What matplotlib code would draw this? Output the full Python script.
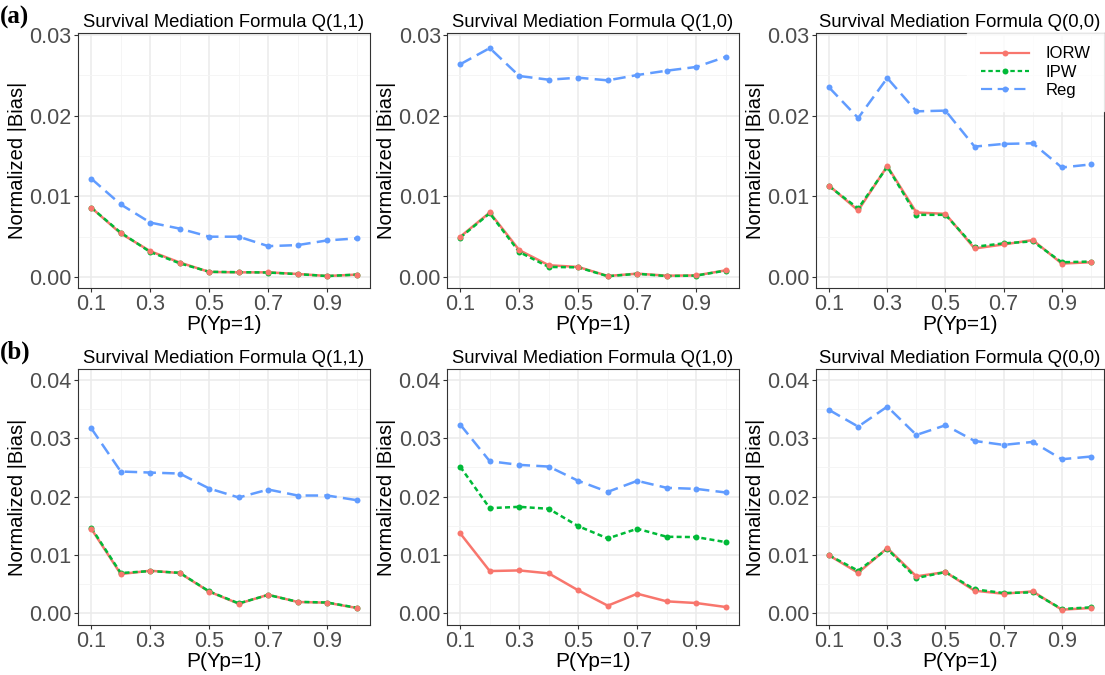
"""Normalized |Bias| of IORW, IPW and Reg estimators across P(Yp=1)."""

import matplotlib

matplotlib.use("Agg")
import matplotlib.pyplot as plt
from matplotlib.lines import Line2D
from matplotlib.ticker import MultipleLocator

plt.rcParams["font.family"] = ["Liberation Sans", "DejaVu Sans"]

p_yp = [0.1, 0.2, 0.3, 0.4, 0.5, 0.6, 0.7, 0.8, 0.9, 1.0]
x_ticks = [0.1, 0.3, 0.5, 0.7, 0.9]
titles = [
    "Survival Mediation Formula Q(1,1)",
    "Survival Mediation Formula Q(1,0)",
    "Survival Mediation Formula Q(0,0)",
]
methods = ["IORW", "IPW", "Reg"]

# row (a)
a_q11_iorw = [0.0086, 0.0054, 0.0032, 0.0018, 0.00063, 0.00058, 0.00058, 0.00038, 0.00013, 0.0003]
a_q11_ipw = [0.0086, 0.0055, 0.0031, 0.0017, 0.00065, 0.0006, 0.00056, 0.00036, 0.00012, 0.0003]
a_q11_reg = [0.0122, 0.0090, 0.00675, 0.0060, 0.0050, 0.0050, 0.00383, 0.00396, 0.00454, 0.00479]

a_q10_iorw = [0.0050, 0.0080, 0.00333, 0.00146, 0.00125, 0.00013, 0.00042, 0.00017, 0.0002, 0.00083]
a_q10_ipw = [0.0049, 0.0079, 0.0031, 0.00125, 0.0012, 0.0001, 0.0004, 0.00012, 0.00018, 0.0008]
a_q10_reg = [0.02638, 0.02838, 0.02492, 0.02446, 0.02471, 0.02438, 0.02504, 0.02558, 0.02604, 0.02729]

a_q00_iorw = [0.01133, 0.00825, 0.01375, 0.0080, 0.00783, 0.00354, 0.00404, 0.00458, 0.00167, 0.00183]
a_q00_ipw = [0.01125, 0.0085, 0.01367, 0.00771, 0.00771, 0.00375, 0.00417, 0.00442, 0.00183, 0.00192]
a_q00_reg = [0.0235, 0.01971, 0.02467, 0.02054, 0.02063, 0.01617, 0.0165, 0.01658, 0.01358, 0.01396]

# row (b)
b_q11_iorw = [0.01446, 0.00669, 0.00726, 0.00686, 0.00366, 0.0016, 0.00314, 0.00189, 0.00177, 0.00086]
b_q11_ipw = [0.01463, 0.00686, 0.0072, 0.0069, 0.0037, 0.00165, 0.0031, 0.00192, 0.0018, 0.0009]
b_q11_reg = [0.03171, 0.02429, 0.02411, 0.02394, 0.02137, 0.01983, 0.0212, 0.02017, 0.02017, 0.01937]

b_q10_iorw = [0.01366, 0.0072, 0.00731, 0.0068, 0.00389, 0.00126, 0.00331, 0.002, 0.00171, 0.00103]
b_q10_ipw = [0.02509, 0.0180, 0.01823, 0.01789, 0.01491, 0.0128, 0.01446, 0.01309, 0.01303, 0.01217]
b_q10_reg = [0.03234, 0.02606, 0.02543, 0.02514, 0.02269, 0.0208, 0.02269, 0.02149, 0.02131, 0.02069]

b_q00_iorw = [0.00989, 0.00691, 0.01114, 0.00629, 0.00703, 0.00383, 0.00331, 0.00371, 0.00057, 0.00086]
b_q00_ipw = [0.00989, 0.00726, 0.0110, 0.0060, 0.00703, 0.00406, 0.00343, 0.00354, 0.00069, 0.00097]
b_q00_reg = [0.03486, 0.0320, 0.03543, 0.03057, 0.03223, 0.02954, 0.02886, 0.02937, 0.0264, 0.02686]

rows = [
    [(a_q11_iorw, a_q11_ipw, a_q11_reg), (a_q10_iorw, a_q10_ipw, a_q10_reg), (a_q00_iorw, a_q00_ipw, a_q00_reg)],
    [(b_q11_iorw, b_q11_ipw, b_q11_reg), (b_q10_iorw, b_q10_ipw, b_q10_reg), (b_q00_iorw, b_q00_ipw, b_q00_reg)],
]

COLORS = ["#F8766D", "#00BA38", "#619CFF"]
STYLES = ["-", (0, (2, 1.3)), (0, (5, 2.5))]
LINE_Z = [3.0, 3.1, 3.2]
POINT_Z = [4.2, 4.0, 4.1]
GRID = "#EBEBEB"
TEXT_GREY = "#4D4D4D"

fig = plt.figure(figsize=(11.05, 6.75), dpi=100)

lefts = [78, 447, 816]
rights = [370, 739, 1104]
tops = [33, 369]
bottoms = [288, 625]
ylims = [(-0.00136, 0.03025), (-0.00206, 0.04189)]
yticks = [[0.0, 0.01, 0.02, 0.03], [0.0, 0.01, 0.02, 0.03, 0.04]]
W, H = 1105, 675

for r in range(2):
    for c in range(3):
        ax = fig.add_axes([
            lefts[c] / W,
            1 - bottoms[r] / H,
            (rights[c] - lefts[c]) / W,
            (bottoms[r] - tops[r]) / H,
        ])
        for series, color, ls, lz, pz in zip(rows[r][c], COLORS, STYLES, LINE_Z, POINT_Z):
            ax.plot(p_yp, series, color=color, linestyle=ls, linewidth=1.8, zorder=lz)
            ax.plot(p_yp, series, color=color, linestyle="none", marker="o",
                    markersize=4.3, markeredgewidth=0, zorder=pz)
        ax.set_xlim(0.055, 1.045)
        ax.set_ylim(*ylims[r])
        ax.set_xticks(x_ticks)
        ax.set_xticklabels([f"{t:.1f}" for t in x_ticks])
        ax.set_yticks(yticks[r])
        ax.set_yticklabels([f"{t:.2f}" for t in yticks[r]])
        ax.xaxis.set_minor_locator(MultipleLocator(0.1))
        ax.yaxis.set_minor_locator(MultipleLocator(0.005))
        ax.grid(which="major", color=GRID, linewidth=1.1, zorder=0)
        ax.grid(which="minor", color="#F4F4F4", linewidth=0.6, zorder=0)
        ax.set_axisbelow(True)
        ax.tick_params(which="major", length=3, width=0.8, color="#333333",
                       labelsize=15.5, labelcolor=TEXT_GREY, pad=1.5)
        ax.tick_params(which="minor", length=0)
        for sp in ax.spines.values():
            sp.set_color("#333333")
            sp.set_linewidth(0.8)
        ax.set_title(titles[c], fontsize=13.3, color="black", pad=4)
        ax.set_xlabel("P(Yp=1)", fontsize=15, labelpad=0)
        ax.set_ylabel("Normalized |Bias|", fontsize=14.5, labelpad=2)

        if r == 0 and c == 2:
            handles = [
                Line2D([0, 0.5, 1], [0, 0, 0], color=col, linestyle=ls, linewidth=1.6,
                       marker="o", markersize=4.3, markeredgewidth=0, markevery=[1])
                for col, ls in zip(COLORS, STYLES)
            ]
            leg = ax.legend(handles, methods, loc="upper right", frameon=True,
                            fontsize=12, handlelength=2.9, borderaxespad=0.0,
                            labelspacing=0.2, handletextpad=1.0,
                            borderpad=0.8, fancybox=False)
            leg.get_frame().set_edgecolor("white")
            leg.get_frame().set_facecolor("white")
            leg.set_zorder(6)

fig.text(0.0, 1 - 17 / H, "(a)", fontsize=18, fontweight="bold",
         family=["Liberation Serif", "DejaVu Serif"], va="center")
fig.text(0.0, 1 - 352 / H, "(b)", fontsize=18, fontweight="bold",
         family=["Liberation Serif", "DejaVu Serif"], va="center")

fig.savefig("out.png", dpi=100)
